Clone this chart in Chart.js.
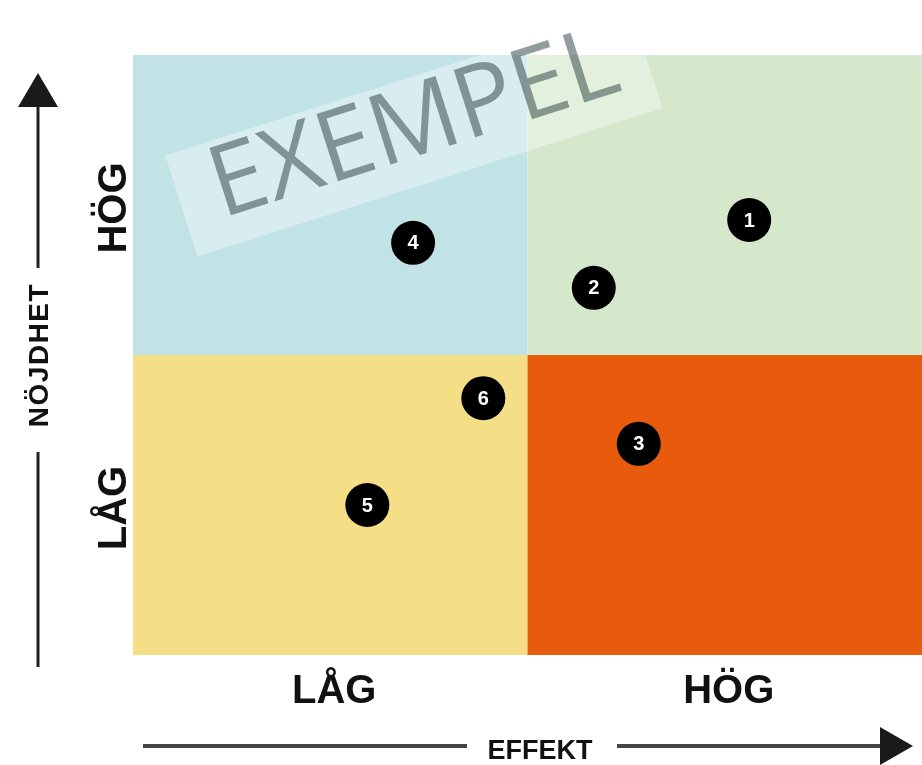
<!DOCTYPE html>
<html>
<head>
<meta charset="utf-8">
<script src="https://cdn.jsdelivr.net/npm/chart.js@4.4.1/dist/chart.umd.min.js"></script>
<style>
  html, body { margin: 0; padding: 0; background: #fff; overflow: hidden; }
  canvas { display: block; }
</style>
</head>
<body>
<canvas id="matrixChart" width="922" height="765"></canvas>
<script>
// items placed in the matrix (number, effekt, nöjdhet)
const pointLabels = ['1', '2', '3', '4', '5', '6'];
const effekt = [7.81, 5.84, 6.41, 3.55, 2.97, 4.44];
const nojdhet = [7.25, 6.12, 3.52, 6.87, 2.50, 4.28];

// axis levels
const levelLabels = ['LÅG', 'HÖG'];
const levelTicks = [2.5, 7.5];
const splitValue = 5;

const quadColors = {
  lowLow: '#f5df86',
  lowHigh: '#c2e3e6',
  highLow: '#e95b0c',
  highHigh: '#d5e8cc'
};

const matrixPlugin = {
  id: 'matrix',
  beforeDatasetsDraw(chart) {
    const { ctx, chartArea: a, scales: { x, y } } = chart;
    const mx = x.getPixelForValue(splitValue);
    const my = y.getPixelForValue(splitValue);
    ctx.save();
    ctx.fillStyle = quadColors.lowHigh;
    ctx.fillRect(a.left, a.top, mx - a.left, my - a.top);
    ctx.fillStyle = quadColors.highHigh;
    ctx.fillRect(mx, a.top, a.right - mx, my - a.top);
    ctx.fillStyle = quadColors.lowLow;
    ctx.fillRect(a.left, my, mx - a.left, a.bottom - my);
    ctx.fillStyle = quadColors.highLow;
    ctx.fillRect(mx, my, a.right - mx, a.bottom - my);

    // EXEMPEL stamp
    ctx.translate(x.getPixelForValue(3.56), y.getPixelForValue(8.72));
    ctx.rotate(-17.7 * Math.PI / 180);
    ctx.fillStyle = 'rgba(255,255,255,0.35)';
    ctx.fillRect(-244, -53, 488, 106);
    ctx.fillStyle = 'rgba(40,60,60,0.5)';
    ctx.font = '400 99px "Open Sans"';
    ctx.textAlign = 'center';
    ctx.textBaseline = 'alphabetic';
    ctx.fillText('EXEMPEL', 2, 24);
    ctx.restore();
  },
  afterDatasetsDraw(chart) {
    const { ctx } = chart;
    const meta = chart.getDatasetMeta(0);
    ctx.save();
    ctx.fillStyle = '#fff';
    ctx.font = 'bold 20px "Liberation Sans"';
    ctx.textAlign = 'center';
    ctx.textBaseline = 'middle';
    meta.data.forEach((pt, i) => {
      ctx.fillText(pointLabels[i], pt.x, pt.y + 1);
    });
    ctx.restore();
  },
  afterDraw(chart) {
    const { ctx, scales: { x, y } } = chart;
    ctx.save();
    ctx.fillStyle = '#111';
    ctx.font = 'bold 40px "Liberation Sans"';
    ctx.textAlign = 'center';
    ctx.textBaseline = 'alphabetic';
    levelTicks.forEach((t, i) => {
      ctx.fillText(levelLabels[i], x.getPixelForValue(t) + 4, 703);
      ctx.save();
      ctx.translate(126, y.getPixelForValue(t) + 3);
      ctx.rotate(-Math.PI / 2);
      ctx.fillText(levelLabels[i], 0, 0);
      ctx.restore();
    });

    // axis titles
    ctx.font = 'bold 27px "Liberation Sans"';
    ctx.fillText('EFFEKT', 540, 759);
    ctx.save();
    ctx.translate(48, y.getPixelForValue(splitValue));
    ctx.rotate(-Math.PI / 2);
    ctx.font = 'bold 28px "Liberation Sans"';
    ctx.letterSpacing = '1.5px';
    ctx.fillText('NÖJDHET', 0, 0);
    ctx.restore();

    // vertical arrow
    ctx.strokeStyle = '#222';
    ctx.lineWidth = 3;
    ctx.beginPath();
    ctx.moveTo(38, 105); ctx.lineTo(38, 268);
    ctx.moveTo(38, 452); ctx.lineTo(38, 667);
    ctx.stroke();
    ctx.fillStyle = '#1a1a1a';
    ctx.beginPath();
    ctx.moveTo(38, 73); ctx.lineTo(58, 107); ctx.lineTo(18, 107);
    ctx.closePath();
    ctx.fill();

    // horizontal arrow
    ctx.strokeStyle = '#444';
    ctx.lineWidth = 4;
    ctx.beginPath();
    ctx.moveTo(143, 746); ctx.lineTo(467, 746);
    ctx.moveTo(617, 746); ctx.lineTo(884, 746);
    ctx.stroke();
    ctx.beginPath();
    ctx.moveTo(913, 746); ctx.lineTo(880, 727); ctx.lineTo(880, 765);
    ctx.closePath();
    ctx.fill();
    ctx.restore();
  }
};

new Chart(document.getElementById('matrixChart'), {
  type: 'scatter',
  data: {
    datasets: [{
      data: effekt.map((v, i) => ({ x: v, y: nojdhet[i] })),
      backgroundColor: '#000',
      borderWidth: 0,
      pointRadius: 22,
      pointHoverRadius: 22
    }]
  },
  options: {
    responsive: false,
    animation: false,
    layout: {
      autoPadding: false,
      padding: { left: 133, top: 55, right: 0, bottom: 110 }
    },
    scales: {
      x: { type: 'linear', min: 0, max: 10, display: false },
      y: { type: 'linear', min: 0, max: 10, display: false }
    },
    plugins: {
      legend: { display: false },
      tooltip: { enabled: false }
    }
  },
  plugins: [matrixPlugin]
});
</script>
</body>
</html>
